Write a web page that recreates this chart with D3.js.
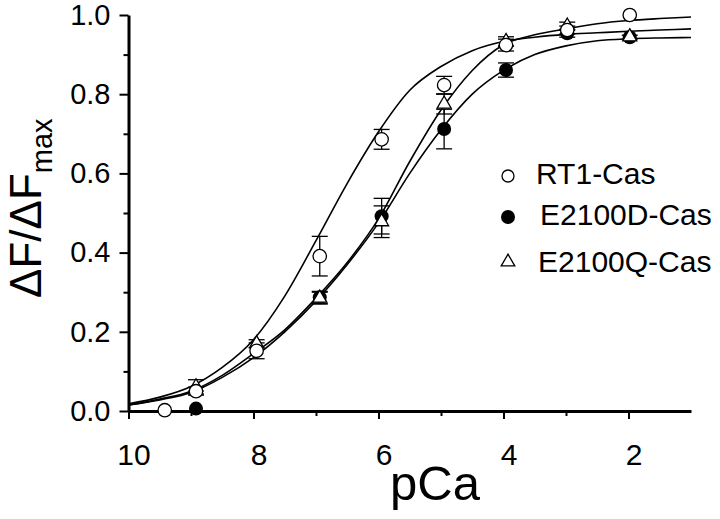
<!DOCTYPE html>
<html>
<head>
<meta charset="utf-8">
<title></title>
<script src="https://cdn.jsdelivr.net/npm/d3@7"></script>
<style>
  body { margin: 0; background: #fff; }
  text { font-family: "Liberation Sans", Arial, sans-serif; fill: #000; }
</style>
</head>
<body>
<svg id="chart" width="720" height="519"></svg>
<script>
// ---- data ----
var seriesNames = ["RT1-Cas", "E2100D-Cas", "E2100Q-Cas"];

// RT1-Cas (open circles)
var rt1PCa = [9.42, 8.92, 7.95, 6.94, 5.95, 4.95, 3.96, 2.98, 1.98];
var rt1Val = [0.002, 0.050, 0.152, 0.391, 0.686, 0.823, 0.924, 0.962, 1.000];
var rt1Err = [0, 0.010, 0.020, 0.050, 0.025, 0.022, 0.015, 0.010, 0];

// E2100D-Cas (filled circles)
var dPCa = [8.92, 6.94, 5.95, 4.95, 3.96, 2.98, 1.98];
var dVal = [0.006, 0.287, 0.492, 0.712, 0.861, 0.954, 0.944];
var dErr = [0, 0.015, 0.045, 0.050, 0.018, 0.010, 0.005];

// E2100Q-Cas (open triangles)
var qPCa = [8.92, 7.95, 6.94, 5.95, 4.95, 3.96, 2.98, 1.98];
var qVal = [0.061, 0.170, 0.285, 0.478, 0.775, 0.933, 0.972, 0.945];
var qErr = [0.018, 0.010, 0.015, 0.040, 0.025, 0.012, 0.010, 0];

// fitted curves
var curvePCa = [10, 9.5, 9, 8.5, 8, 7.5, 7, 6.5, 6, 5.5, 5, 4.5, 4, 3.5, 3, 2.5, 2, 1.5, 1];
var rt1Curve = [0.018, 0.035, 0.062, 0.11, 0.18, 0.29, 0.43, 0.575, 0.705, 0.81, 0.87, 0.91, 0.933, 0.944, 0.951, 0.955, 0.959, 0.962, 0.965];
var dCurve   = [0.015, 0.028, 0.047, 0.085, 0.135, 0.20, 0.278, 0.37, 0.475, 0.60, 0.71, 0.80, 0.86, 0.90, 0.922, 0.935, 0.940, 0.942, 0.943];
var qCurve   = [0.015, 0.030, 0.050, 0.09, 0.145, 0.205, 0.285, 0.375, 0.485, 0.63, 0.76, 0.86, 0.925, 0.95, 0.965, 0.978, 0.986, 0.991, 0.995];

var xTicksMajor = [10, 8, 6, 4, 2];
var xTicksMinor = [9, 7, 5, 3];
var yTicksMajor = [0, 0.2, 0.4, 0.6, 0.8, 1.0];
var yTicksMinor = [0.1, 0.3, 0.5, 0.7, 0.9];

// ---- layout ----
var svg = d3.select("#chart");
var x = d3.scaleLinear().domain([10, 1]).range([128.5, 691]);
var y = d3.scaleLinear().domain([0, 1]).range([411, 15]);

function toPts(ps, vs, es) {
    return ps.map(function(p, i){ return {p: p, v: vs[i], e: es ? es[i] : 0}; });
}
var rt1 = toPts(rt1PCa, rt1Val, rt1Err);
var dd = toPts(dPCa, dVal, dErr);
var qq = toPts(qPCa, qVal, qErr);

// axes
var yAxisMinor = svg.append("g").attr("transform", "translate(128.5,0)")
    .call(d3.axisLeft(y).tickValues(yTicksMinor).tickSize(5).tickSizeOuter(0).tickFormat(""));
var yAxis = svg.append("g").attr("transform", "translate(128.5,0)")
    .call(d3.axisLeft(y).tickValues(yTicksMajor).tickSize(9).tickSizeOuter(0)
        .tickPadding(9).tickFormat(d3.format(".1f")));
var xAxisMinor = svg.append("g").attr("transform", "translate(0,411)")
    .call(d3.axisBottom(x).tickValues(xTicksMinor).tickSize(5).tickSizeOuter(0).tickFormat(""));
var xAxis = svg.append("g").attr("transform", "translate(0,411)")
    .call(d3.axisBottom(x).tickValues(xTicksMajor).tickSize(8).tickSizeOuter(0).tickPadding(25));

svg.selectAll(".domain").attr("stroke", "#000").attr("stroke-width", 3);
yAxisMinor.select(".domain").remove();
xAxisMinor.select(".domain").remove();
svg.selectAll(".tick line").attr("stroke", "#000").attr("stroke-width", 2);
yAxis.selectAll("text").style("font-size", "29px");
xAxis.selectAll("text").style("font-size", "30px").attr("dx", 5);

// axis titles
svg.append("text")
    .attr("x", 435).attr("y", 500)
    .attr("text-anchor", "middle")
    .style("font-size", "49px")
    .text("pCa");

var yt = svg.append("text")
    .attr("transform", "translate(41,298) rotate(-90)")
    .style("font-size", "44px");
yt.append("tspan").text("\u0394F/\u0394F");
yt.append("tspan").attr("dy", 11).style("font-size", "29px").text("max");

// fitted curves
var line = d3.line()
    .x(function(d){ return x(d.p); })
    .y(function(d){ return y(d.v); })
    .curve(d3.curveMonotoneX);
[rt1Curve, dCurve, qCurve].forEach(function(c){
    svg.append("path")
        .datum(toPts(curvePCa, c))
        .attr("d", line)
        .attr("fill", "none")
        .attr("stroke", "#000")
        .attr("stroke-width", 1.6);
});

// error bars
function errBars(data) {
    var g = svg.append("g").attr("stroke", "#000").attr("stroke-width", 1.3);
    data.filter(function(d){ return d.e > 0; }).forEach(function(d){
        var cx = x(d.p);
        g.append("line").attr("x1", cx).attr("x2", cx)
            .attr("y1", y(d.v - d.e)).attr("y2", y(d.v + d.e));
        [d.v - d.e, d.v + d.e].forEach(function(v){
            g.append("line").attr("x1", cx - 8).attr("x2", cx + 8)
                .attr("y1", y(v)).attr("y2", y(v));
        });
    });
}
errBars(dd);
errBars(qq);
errBars(rt1);

// markers
svg.append("g").selectAll("circle").data(dd).enter().append("circle")
    .attr("cx", function(d){ return x(d.p); })
    .attr("cy", function(d){ return y(d.v); })
    .attr("r", 7).attr("fill", "#000");

var tri = d3.symbol().type(d3.symbolTriangle).size(85);
svg.append("g").selectAll("path").data(qq).enter().append("path")
    .attr("d", tri)
    .attr("transform", function(d){ return "translate(" + x(d.p) + "," + y(d.v) + ")"; })
    .attr("fill", "#fff").attr("stroke", "#000").attr("stroke-width", 1.3);

svg.append("g").selectAll("circle").data(rt1).enter().append("circle")
    .attr("cx", function(d){ return x(d.p); })
    .attr("cy", function(d){ return y(d.v); })
    .attr("r", 6.7).attr("fill", "#fff").attr("stroke", "#000").attr("stroke-width", 1.3);

// legend
var lg = svg.append("g");
lg.append("circle").attr("cx", 508).attr("cy", 176).attr("r", 6)
    .attr("fill", "#fff").attr("stroke", "#000").attr("stroke-width", 1.3);
lg.append("circle").attr("cx", 508).attr("cy", 217).attr("r", 7).attr("fill", "#000");
lg.append("path").attr("d", d3.symbol().type(d3.symbolTriangle).size(80))
    .attr("transform", "translate(508,262)")
    .attr("fill", "#fff").attr("stroke", "#000").attr("stroke-width", 1.3);
var lx = [536, 540, 538], ly = [184, 225, 272];
seriesNames.forEach(function(n, i){
    lg.append("text").attr("x", lx[i]).attr("y", ly[i])
        .style("font-size", "30px").text(n);
});
</script>
</body>
</html>
